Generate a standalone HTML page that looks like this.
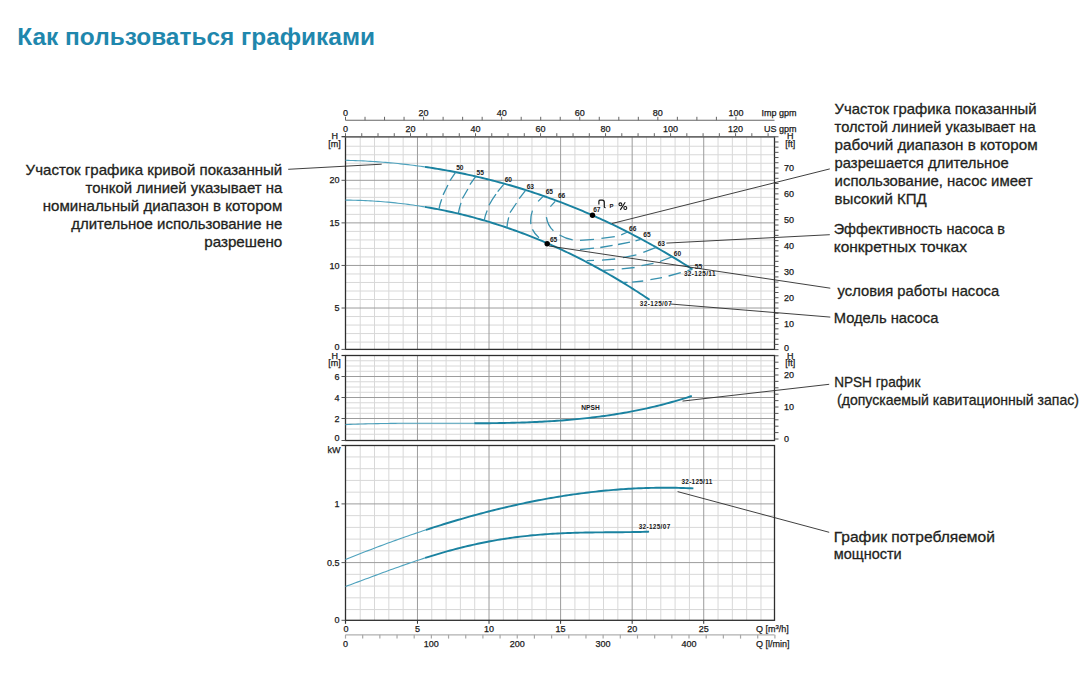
<!DOCTYPE html>
<html><head><meta charset="utf-8"><style>
html,body{margin:0;padding:0;background:#fff;}
body{width:1085px;height:686px;overflow:hidden;position:relative;font-family:"Liberation Sans",sans-serif;}
svg{position:absolute;left:0;top:0;}
svg text{font-family:"Liberation Sans",sans-serif;}
</style></head><body>
<svg width="1085" height="686" viewBox="0 0 1085 686">
<text x="17.3" y="44.8" font-size="24.5" font-weight="bold" fill="#1f87ad" textLength="357.7" lengthAdjust="spacingAndGlyphs">Как пользоваться графиками</text>
<line x1="360.21" y1="136.7" x2="360.21" y2="349.4" stroke="#d8d8d8" stroke-width="1" />
<line x1="374.53" y1="136.7" x2="374.53" y2="349.4" stroke="#d8d8d8" stroke-width="1" />
<line x1="388.84" y1="136.7" x2="388.84" y2="349.4" stroke="#d8d8d8" stroke-width="1" />
<line x1="403.15" y1="136.7" x2="403.15" y2="349.4" stroke="#d8d8d8" stroke-width="1" />
<line x1="431.78" y1="136.7" x2="431.78" y2="349.4" stroke="#d8d8d8" stroke-width="1" />
<line x1="446.09" y1="136.7" x2="446.09" y2="349.4" stroke="#d8d8d8" stroke-width="1" />
<line x1="460.4" y1="136.7" x2="460.4" y2="349.4" stroke="#d8d8d8" stroke-width="1" />
<line x1="474.72" y1="136.7" x2="474.72" y2="349.4" stroke="#d8d8d8" stroke-width="1" />
<line x1="503.34" y1="136.7" x2="503.34" y2="349.4" stroke="#d8d8d8" stroke-width="1" />
<line x1="517.66" y1="136.7" x2="517.66" y2="349.4" stroke="#d8d8d8" stroke-width="1" />
<line x1="531.97" y1="136.7" x2="531.97" y2="349.4" stroke="#d8d8d8" stroke-width="1" />
<line x1="546.28" y1="136.7" x2="546.28" y2="349.4" stroke="#d8d8d8" stroke-width="1" />
<line x1="574.91" y1="136.7" x2="574.91" y2="349.4" stroke="#d8d8d8" stroke-width="1" />
<line x1="589.22" y1="136.7" x2="589.22" y2="349.4" stroke="#d8d8d8" stroke-width="1" />
<line x1="603.53" y1="136.7" x2="603.53" y2="349.4" stroke="#d8d8d8" stroke-width="1" />
<line x1="617.85" y1="136.7" x2="617.85" y2="349.4" stroke="#d8d8d8" stroke-width="1" />
<line x1="646.47" y1="136.7" x2="646.47" y2="349.4" stroke="#d8d8d8" stroke-width="1" />
<line x1="660.79" y1="136.7" x2="660.79" y2="349.4" stroke="#d8d8d8" stroke-width="1" />
<line x1="675.1" y1="136.7" x2="675.1" y2="349.4" stroke="#d8d8d8" stroke-width="1" />
<line x1="689.41" y1="136.7" x2="689.41" y2="349.4" stroke="#d8d8d8" stroke-width="1" />
<line x1="718.04" y1="136.7" x2="718.04" y2="349.4" stroke="#d8d8d8" stroke-width="1" />
<line x1="732.35" y1="136.7" x2="732.35" y2="349.4" stroke="#d8d8d8" stroke-width="1" />
<line x1="746.66" y1="136.7" x2="746.66" y2="349.4" stroke="#d8d8d8" stroke-width="1" />
<line x1="760.98" y1="136.7" x2="760.98" y2="349.4" stroke="#d8d8d8" stroke-width="1" />
<line x1="345.5" y1="342.09" x2="774.5" y2="342.09" stroke="#d8d8d8" stroke-width="1" />
<line x1="345.5" y1="333.57" x2="774.5" y2="333.57" stroke="#d8d8d8" stroke-width="1" />
<line x1="345.5" y1="325.06" x2="774.5" y2="325.06" stroke="#d8d8d8" stroke-width="1" />
<line x1="345.5" y1="316.54" x2="774.5" y2="316.54" stroke="#d8d8d8" stroke-width="1" />
<line x1="345.5" y1="299.51" x2="774.5" y2="299.51" stroke="#d8d8d8" stroke-width="1" />
<line x1="345.5" y1="291" x2="774.5" y2="291" stroke="#d8d8d8" stroke-width="1" />
<line x1="345.5" y1="282.48" x2="774.5" y2="282.48" stroke="#d8d8d8" stroke-width="1" />
<line x1="345.5" y1="273.97" x2="774.5" y2="273.97" stroke="#d8d8d8" stroke-width="1" />
<line x1="345.5" y1="256.94" x2="774.5" y2="256.94" stroke="#d8d8d8" stroke-width="1" />
<line x1="345.5" y1="248.42" x2="774.5" y2="248.42" stroke="#d8d8d8" stroke-width="1" />
<line x1="345.5" y1="239.91" x2="774.5" y2="239.91" stroke="#d8d8d8" stroke-width="1" />
<line x1="345.5" y1="231.39" x2="774.5" y2="231.39" stroke="#d8d8d8" stroke-width="1" />
<line x1="345.5" y1="214.36" x2="774.5" y2="214.36" stroke="#d8d8d8" stroke-width="1" />
<line x1="345.5" y1="205.85" x2="774.5" y2="205.85" stroke="#d8d8d8" stroke-width="1" />
<line x1="345.5" y1="197.33" x2="774.5" y2="197.33" stroke="#d8d8d8" stroke-width="1" />
<line x1="345.5" y1="188.81" x2="774.5" y2="188.81" stroke="#d8d8d8" stroke-width="1" />
<line x1="345.5" y1="171.79" x2="774.5" y2="171.79" stroke="#d8d8d8" stroke-width="1" />
<line x1="345.5" y1="163.27" x2="774.5" y2="163.27" stroke="#d8d8d8" stroke-width="1" />
<line x1="345.5" y1="154.75" x2="774.5" y2="154.75" stroke="#d8d8d8" stroke-width="1" />
<line x1="345.5" y1="146.24" x2="774.5" y2="146.24" stroke="#d8d8d8" stroke-width="1" />
<line x1="417.46" y1="136.7" x2="417.46" y2="349.4" stroke="#9c9c9c" stroke-width="1" />
<line x1="489.03" y1="136.7" x2="489.03" y2="349.4" stroke="#9c9c9c" stroke-width="1" />
<line x1="560.6" y1="136.7" x2="560.6" y2="349.4" stroke="#9c9c9c" stroke-width="1" />
<line x1="632.16" y1="136.7" x2="632.16" y2="349.4" stroke="#9c9c9c" stroke-width="1" />
<line x1="703.72" y1="136.7" x2="703.72" y2="349.4" stroke="#9c9c9c" stroke-width="1" />
<line x1="345.5" y1="308.03" x2="774.5" y2="308.03" stroke="#9c9c9c" stroke-width="1" />
<line x1="345.5" y1="265.45" x2="774.5" y2="265.45" stroke="#9c9c9c" stroke-width="1" />
<line x1="345.5" y1="222.88" x2="774.5" y2="222.88" stroke="#9c9c9c" stroke-width="1" />
<line x1="345.5" y1="180.3" x2="774.5" y2="180.3" stroke="#9c9c9c" stroke-width="1" />
<line x1="360.21" y1="355.5" x2="360.21" y2="440.5" stroke="#d8d8d8" stroke-width="1" />
<line x1="374.53" y1="355.5" x2="374.53" y2="440.5" stroke="#d8d8d8" stroke-width="1" />
<line x1="388.84" y1="355.5" x2="388.84" y2="440.5" stroke="#d8d8d8" stroke-width="1" />
<line x1="403.15" y1="355.5" x2="403.15" y2="440.5" stroke="#d8d8d8" stroke-width="1" />
<line x1="431.78" y1="355.5" x2="431.78" y2="440.5" stroke="#d8d8d8" stroke-width="1" />
<line x1="446.09" y1="355.5" x2="446.09" y2="440.5" stroke="#d8d8d8" stroke-width="1" />
<line x1="460.4" y1="355.5" x2="460.4" y2="440.5" stroke="#d8d8d8" stroke-width="1" />
<line x1="474.72" y1="355.5" x2="474.72" y2="440.5" stroke="#d8d8d8" stroke-width="1" />
<line x1="503.34" y1="355.5" x2="503.34" y2="440.5" stroke="#d8d8d8" stroke-width="1" />
<line x1="517.66" y1="355.5" x2="517.66" y2="440.5" stroke="#d8d8d8" stroke-width="1" />
<line x1="531.97" y1="355.5" x2="531.97" y2="440.5" stroke="#d8d8d8" stroke-width="1" />
<line x1="546.28" y1="355.5" x2="546.28" y2="440.5" stroke="#d8d8d8" stroke-width="1" />
<line x1="574.91" y1="355.5" x2="574.91" y2="440.5" stroke="#d8d8d8" stroke-width="1" />
<line x1="589.22" y1="355.5" x2="589.22" y2="440.5" stroke="#d8d8d8" stroke-width="1" />
<line x1="603.53" y1="355.5" x2="603.53" y2="440.5" stroke="#d8d8d8" stroke-width="1" />
<line x1="617.85" y1="355.5" x2="617.85" y2="440.5" stroke="#d8d8d8" stroke-width="1" />
<line x1="646.47" y1="355.5" x2="646.47" y2="440.5" stroke="#d8d8d8" stroke-width="1" />
<line x1="660.79" y1="355.5" x2="660.79" y2="440.5" stroke="#d8d8d8" stroke-width="1" />
<line x1="675.1" y1="355.5" x2="675.1" y2="440.5" stroke="#d8d8d8" stroke-width="1" />
<line x1="689.41" y1="355.5" x2="689.41" y2="440.5" stroke="#d8d8d8" stroke-width="1" />
<line x1="718.04" y1="355.5" x2="718.04" y2="440.5" stroke="#d8d8d8" stroke-width="1" />
<line x1="732.35" y1="355.5" x2="732.35" y2="440.5" stroke="#d8d8d8" stroke-width="1" />
<line x1="746.66" y1="355.5" x2="746.66" y2="440.5" stroke="#d8d8d8" stroke-width="1" />
<line x1="760.98" y1="355.5" x2="760.98" y2="440.5" stroke="#d8d8d8" stroke-width="1" />
<line x1="345.5" y1="434.25" x2="774.5" y2="434.25" stroke="#d8d8d8" stroke-width="1" />
<line x1="345.5" y1="429" x2="774.5" y2="429" stroke="#d8d8d8" stroke-width="1" />
<line x1="345.5" y1="423.75" x2="774.5" y2="423.75" stroke="#d8d8d8" stroke-width="1" />
<line x1="345.5" y1="413.25" x2="774.5" y2="413.25" stroke="#d8d8d8" stroke-width="1" />
<line x1="345.5" y1="408" x2="774.5" y2="408" stroke="#d8d8d8" stroke-width="1" />
<line x1="345.5" y1="402.75" x2="774.5" y2="402.75" stroke="#d8d8d8" stroke-width="1" />
<line x1="345.5" y1="392.25" x2="774.5" y2="392.25" stroke="#d8d8d8" stroke-width="1" />
<line x1="345.5" y1="387" x2="774.5" y2="387" stroke="#d8d8d8" stroke-width="1" />
<line x1="345.5" y1="381.75" x2="774.5" y2="381.75" stroke="#d8d8d8" stroke-width="1" />
<line x1="345.5" y1="371.25" x2="774.5" y2="371.25" stroke="#d8d8d8" stroke-width="1" />
<line x1="345.5" y1="366" x2="774.5" y2="366" stroke="#d8d8d8" stroke-width="1" />
<line x1="345.5" y1="360.75" x2="774.5" y2="360.75" stroke="#d8d8d8" stroke-width="1" />
<line x1="417.46" y1="355.5" x2="417.46" y2="440.5" stroke="#9c9c9c" stroke-width="1" />
<line x1="489.03" y1="355.5" x2="489.03" y2="440.5" stroke="#9c9c9c" stroke-width="1" />
<line x1="560.6" y1="355.5" x2="560.6" y2="440.5" stroke="#9c9c9c" stroke-width="1" />
<line x1="632.16" y1="355.5" x2="632.16" y2="440.5" stroke="#9c9c9c" stroke-width="1" />
<line x1="703.72" y1="355.5" x2="703.72" y2="440.5" stroke="#9c9c9c" stroke-width="1" />
<line x1="345.5" y1="418.5" x2="774.5" y2="418.5" stroke="#9c9c9c" stroke-width="1" />
<line x1="345.5" y1="397.5" x2="774.5" y2="397.5" stroke="#9c9c9c" stroke-width="1" />
<line x1="345.5" y1="376.5" x2="774.5" y2="376.5" stroke="#9c9c9c" stroke-width="1" />
<line x1="360.21" y1="445.5" x2="360.21" y2="620.3" stroke="#d8d8d8" stroke-width="1" />
<line x1="374.53" y1="445.5" x2="374.53" y2="620.3" stroke="#d8d8d8" stroke-width="1" />
<line x1="388.84" y1="445.5" x2="388.84" y2="620.3" stroke="#d8d8d8" stroke-width="1" />
<line x1="403.15" y1="445.5" x2="403.15" y2="620.3" stroke="#d8d8d8" stroke-width="1" />
<line x1="431.78" y1="445.5" x2="431.78" y2="620.3" stroke="#d8d8d8" stroke-width="1" />
<line x1="446.09" y1="445.5" x2="446.09" y2="620.3" stroke="#d8d8d8" stroke-width="1" />
<line x1="460.4" y1="445.5" x2="460.4" y2="620.3" stroke="#d8d8d8" stroke-width="1" />
<line x1="474.72" y1="445.5" x2="474.72" y2="620.3" stroke="#d8d8d8" stroke-width="1" />
<line x1="503.34" y1="445.5" x2="503.34" y2="620.3" stroke="#d8d8d8" stroke-width="1" />
<line x1="517.66" y1="445.5" x2="517.66" y2="620.3" stroke="#d8d8d8" stroke-width="1" />
<line x1="531.97" y1="445.5" x2="531.97" y2="620.3" stroke="#d8d8d8" stroke-width="1" />
<line x1="546.28" y1="445.5" x2="546.28" y2="620.3" stroke="#d8d8d8" stroke-width="1" />
<line x1="574.91" y1="445.5" x2="574.91" y2="620.3" stroke="#d8d8d8" stroke-width="1" />
<line x1="589.22" y1="445.5" x2="589.22" y2="620.3" stroke="#d8d8d8" stroke-width="1" />
<line x1="603.53" y1="445.5" x2="603.53" y2="620.3" stroke="#d8d8d8" stroke-width="1" />
<line x1="617.85" y1="445.5" x2="617.85" y2="620.3" stroke="#d8d8d8" stroke-width="1" />
<line x1="646.47" y1="445.5" x2="646.47" y2="620.3" stroke="#d8d8d8" stroke-width="1" />
<line x1="660.79" y1="445.5" x2="660.79" y2="620.3" stroke="#d8d8d8" stroke-width="1" />
<line x1="675.1" y1="445.5" x2="675.1" y2="620.3" stroke="#d8d8d8" stroke-width="1" />
<line x1="689.41" y1="445.5" x2="689.41" y2="620.3" stroke="#d8d8d8" stroke-width="1" />
<line x1="718.04" y1="445.5" x2="718.04" y2="620.3" stroke="#d8d8d8" stroke-width="1" />
<line x1="732.35" y1="445.5" x2="732.35" y2="620.3" stroke="#d8d8d8" stroke-width="1" />
<line x1="746.66" y1="445.5" x2="746.66" y2="620.3" stroke="#d8d8d8" stroke-width="1" />
<line x1="760.98" y1="445.5" x2="760.98" y2="620.3" stroke="#d8d8d8" stroke-width="1" />
<line x1="345.5" y1="609.56" x2="774.5" y2="609.56" stroke="#d8d8d8" stroke-width="1" />
<line x1="345.5" y1="597.82" x2="774.5" y2="597.82" stroke="#d8d8d8" stroke-width="1" />
<line x1="345.5" y1="586.08" x2="774.5" y2="586.08" stroke="#d8d8d8" stroke-width="1" />
<line x1="345.5" y1="574.34" x2="774.5" y2="574.34" stroke="#d8d8d8" stroke-width="1" />
<line x1="345.5" y1="550.86" x2="774.5" y2="550.86" stroke="#d8d8d8" stroke-width="1" />
<line x1="345.5" y1="539.12" x2="774.5" y2="539.12" stroke="#d8d8d8" stroke-width="1" />
<line x1="345.5" y1="527.38" x2="774.5" y2="527.38" stroke="#d8d8d8" stroke-width="1" />
<line x1="345.5" y1="515.64" x2="774.5" y2="515.64" stroke="#d8d8d8" stroke-width="1" />
<line x1="345.5" y1="492.16" x2="774.5" y2="492.16" stroke="#d8d8d8" stroke-width="1" />
<line x1="345.5" y1="480.42" x2="774.5" y2="480.42" stroke="#d8d8d8" stroke-width="1" />
<line x1="345.5" y1="468.68" x2="774.5" y2="468.68" stroke="#d8d8d8" stroke-width="1" />
<line x1="345.5" y1="456.94" x2="774.5" y2="456.94" stroke="#d8d8d8" stroke-width="1" />
<line x1="417.46" y1="445.5" x2="417.46" y2="620.3" stroke="#9c9c9c" stroke-width="1" />
<line x1="489.03" y1="445.5" x2="489.03" y2="620.3" stroke="#9c9c9c" stroke-width="1" />
<line x1="560.6" y1="445.5" x2="560.6" y2="620.3" stroke="#9c9c9c" stroke-width="1" />
<line x1="632.16" y1="445.5" x2="632.16" y2="620.3" stroke="#9c9c9c" stroke-width="1" />
<line x1="703.72" y1="445.5" x2="703.72" y2="620.3" stroke="#9c9c9c" stroke-width="1" />
<line x1="345.5" y1="562.6" x2="774.5" y2="562.6" stroke="#9c9c9c" stroke-width="1" />
<line x1="345.5" y1="503.9" x2="774.5" y2="503.9" stroke="#9c9c9c" stroke-width="1" />
<rect x="345.5" y="136.7" width="429" height="212.7" fill="none" stroke="#2e2e2e" stroke-width="1.3"/>
<rect x="345.5" y="355.5" width="429" height="85" fill="none" stroke="#2e2e2e" stroke-width="1.3"/>
<rect x="345.5" y="445.5" width="429" height="174.8" fill="none" stroke="#2e2e2e" stroke-width="1.3"/>
<line x1="344.9" y1="136.7" x2="775.1" y2="136.7" stroke="#6a6a6a" stroke-width="1.6" />
<line x1="345.5" y1="120.3" x2="774.5" y2="120.3" stroke="#666" stroke-width="1.1" />
<line x1="345.5" y1="116.8" x2="345.5" y2="120.3" stroke="#666" stroke-width="1" />
<line x1="365.02" y1="116.8" x2="365.02" y2="120.3" stroke="#666" stroke-width="1" />
<line x1="384.54" y1="116.8" x2="384.54" y2="120.3" stroke="#666" stroke-width="1" />
<line x1="404.06" y1="116.8" x2="404.06" y2="120.3" stroke="#666" stroke-width="1" />
<line x1="423.59" y1="116.8" x2="423.59" y2="120.3" stroke="#666" stroke-width="1" />
<line x1="443.11" y1="116.8" x2="443.11" y2="120.3" stroke="#666" stroke-width="1" />
<line x1="462.63" y1="116.8" x2="462.63" y2="120.3" stroke="#666" stroke-width="1" />
<line x1="482.15" y1="116.8" x2="482.15" y2="120.3" stroke="#666" stroke-width="1" />
<line x1="501.67" y1="116.8" x2="501.67" y2="120.3" stroke="#666" stroke-width="1" />
<line x1="521.19" y1="116.8" x2="521.19" y2="120.3" stroke="#666" stroke-width="1" />
<line x1="540.71" y1="116.8" x2="540.71" y2="120.3" stroke="#666" stroke-width="1" />
<line x1="560.23" y1="116.8" x2="560.23" y2="120.3" stroke="#666" stroke-width="1" />
<line x1="579.76" y1="116.8" x2="579.76" y2="120.3" stroke="#666" stroke-width="1" />
<line x1="599.28" y1="116.8" x2="599.28" y2="120.3" stroke="#666" stroke-width="1" />
<line x1="618.8" y1="116.8" x2="618.8" y2="120.3" stroke="#666" stroke-width="1" />
<line x1="638.32" y1="116.8" x2="638.32" y2="120.3" stroke="#666" stroke-width="1" />
<line x1="657.84" y1="116.8" x2="657.84" y2="120.3" stroke="#666" stroke-width="1" />
<line x1="677.36" y1="116.8" x2="677.36" y2="120.3" stroke="#666" stroke-width="1" />
<line x1="696.88" y1="116.8" x2="696.88" y2="120.3" stroke="#666" stroke-width="1" />
<line x1="716.4" y1="116.8" x2="716.4" y2="120.3" stroke="#666" stroke-width="1" />
<line x1="735.93" y1="116.8" x2="735.93" y2="120.3" stroke="#666" stroke-width="1" />
<text x="345.5" y="115.8" font-size="9" text-anchor="middle" font-weight="normal" fill="#1a1a1a" stroke="#1a1a1a" stroke-width="0.25">0</text>
<text x="423.59" y="115.8" font-size="9" text-anchor="middle" font-weight="normal" fill="#1a1a1a" stroke="#1a1a1a" stroke-width="0.25">20</text>
<text x="501.67" y="115.8" font-size="9" text-anchor="middle" font-weight="normal" fill="#1a1a1a" stroke="#1a1a1a" stroke-width="0.25">40</text>
<text x="579.76" y="115.8" font-size="9" text-anchor="middle" font-weight="normal" fill="#1a1a1a" stroke="#1a1a1a" stroke-width="0.25">60</text>
<text x="657.84" y="115.8" font-size="9" text-anchor="middle" font-weight="normal" fill="#1a1a1a" stroke="#1a1a1a" stroke-width="0.25">80</text>
<text x="735.93" y="115.8" font-size="9" text-anchor="middle" font-weight="normal" fill="#1a1a1a" stroke="#1a1a1a" stroke-width="0.25">100</text>
<text x="796.5" y="115.8" font-size="9" text-anchor="end" font-weight="normal" fill="#1a1a1a" stroke="#1a1a1a" stroke-width="0.25">Imp gpm</text>
<line x1="345.5" y1="133.2" x2="345.5" y2="136.7" stroke="#666" stroke-width="1" />
<line x1="361.75" y1="133.2" x2="361.75" y2="136.7" stroke="#666" stroke-width="1" />
<line x1="378.01" y1="133.2" x2="378.01" y2="136.7" stroke="#666" stroke-width="1" />
<line x1="394.26" y1="133.2" x2="394.26" y2="136.7" stroke="#666" stroke-width="1" />
<line x1="410.51" y1="133.2" x2="410.51" y2="136.7" stroke="#666" stroke-width="1" />
<line x1="426.77" y1="133.2" x2="426.77" y2="136.7" stroke="#666" stroke-width="1" />
<line x1="443.02" y1="133.2" x2="443.02" y2="136.7" stroke="#666" stroke-width="1" />
<line x1="459.28" y1="133.2" x2="459.28" y2="136.7" stroke="#666" stroke-width="1" />
<line x1="475.53" y1="133.2" x2="475.53" y2="136.7" stroke="#666" stroke-width="1" />
<line x1="491.78" y1="133.2" x2="491.78" y2="136.7" stroke="#666" stroke-width="1" />
<line x1="508.04" y1="133.2" x2="508.04" y2="136.7" stroke="#666" stroke-width="1" />
<line x1="524.29" y1="133.2" x2="524.29" y2="136.7" stroke="#666" stroke-width="1" />
<line x1="540.54" y1="133.2" x2="540.54" y2="136.7" stroke="#666" stroke-width="1" />
<line x1="556.8" y1="133.2" x2="556.8" y2="136.7" stroke="#666" stroke-width="1" />
<line x1="573.05" y1="133.2" x2="573.05" y2="136.7" stroke="#666" stroke-width="1" />
<line x1="589.31" y1="133.2" x2="589.31" y2="136.7" stroke="#666" stroke-width="1" />
<line x1="605.56" y1="133.2" x2="605.56" y2="136.7" stroke="#666" stroke-width="1" />
<line x1="621.81" y1="133.2" x2="621.81" y2="136.7" stroke="#666" stroke-width="1" />
<line x1="638.07" y1="133.2" x2="638.07" y2="136.7" stroke="#666" stroke-width="1" />
<line x1="654.32" y1="133.2" x2="654.32" y2="136.7" stroke="#666" stroke-width="1" />
<line x1="670.57" y1="133.2" x2="670.57" y2="136.7" stroke="#666" stroke-width="1" />
<line x1="686.83" y1="133.2" x2="686.83" y2="136.7" stroke="#666" stroke-width="1" />
<line x1="703.08" y1="133.2" x2="703.08" y2="136.7" stroke="#666" stroke-width="1" />
<line x1="719.33" y1="133.2" x2="719.33" y2="136.7" stroke="#666" stroke-width="1" />
<line x1="735.59" y1="133.2" x2="735.59" y2="136.7" stroke="#666" stroke-width="1" />
<line x1="751.84" y1="133.2" x2="751.84" y2="136.7" stroke="#666" stroke-width="1" />
<line x1="768.1" y1="133.2" x2="768.1" y2="136.7" stroke="#666" stroke-width="1" />
<text x="345.5" y="131.8" font-size="9" text-anchor="middle" font-weight="normal" fill="#1a1a1a" stroke="#1a1a1a" stroke-width="0.25">0</text>
<text x="410.51" y="131.8" font-size="9" text-anchor="middle" font-weight="normal" fill="#1a1a1a" stroke="#1a1a1a" stroke-width="0.25">20</text>
<text x="475.53" y="131.8" font-size="9" text-anchor="middle" font-weight="normal" fill="#1a1a1a" stroke="#1a1a1a" stroke-width="0.25">40</text>
<text x="540.54" y="131.8" font-size="9" text-anchor="middle" font-weight="normal" fill="#1a1a1a" stroke="#1a1a1a" stroke-width="0.25">60</text>
<text x="605.56" y="131.8" font-size="9" text-anchor="middle" font-weight="normal" fill="#1a1a1a" stroke="#1a1a1a" stroke-width="0.25">80</text>
<text x="670.57" y="131.8" font-size="9" text-anchor="middle" font-weight="normal" fill="#1a1a1a" stroke="#1a1a1a" stroke-width="0.25">100</text>
<text x="735.59" y="131.8" font-size="9" text-anchor="middle" font-weight="normal" fill="#1a1a1a" stroke="#1a1a1a" stroke-width="0.25">120</text>
<text x="796.5" y="131.8" font-size="9" text-anchor="end" font-weight="normal" fill="#1a1a1a" stroke="#1a1a1a" stroke-width="0.25">US gpm</text>
<line x1="341.5" y1="136.7" x2="345.5" y2="136.7" stroke="#2e2e2e" stroke-width="1.2" />
<line x1="341.5" y1="349.4" x2="345.5" y2="349.4" stroke="#555" stroke-width="1" />
<text x="339.5" y="350.3" font-size="9" text-anchor="end" font-weight="normal" fill="#1a1a1a" stroke="#1a1a1a" stroke-width="0.25">0</text>
<line x1="341.5" y1="308.03" x2="345.5" y2="308.03" stroke="#555" stroke-width="1" />
<text x="339.5" y="311.13" font-size="9" text-anchor="end" font-weight="normal" fill="#1a1a1a" stroke="#1a1a1a" stroke-width="0.25">5</text>
<line x1="341.5" y1="265.45" x2="345.5" y2="265.45" stroke="#555" stroke-width="1" />
<text x="339.5" y="268.55" font-size="9" text-anchor="end" font-weight="normal" fill="#1a1a1a" stroke="#1a1a1a" stroke-width="0.25">10</text>
<line x1="341.5" y1="222.88" x2="345.5" y2="222.88" stroke="#555" stroke-width="1" />
<text x="339.5" y="225.97" font-size="9" text-anchor="end" font-weight="normal" fill="#1a1a1a" stroke="#1a1a1a" stroke-width="0.25">15</text>
<line x1="341.5" y1="180.3" x2="345.5" y2="180.3" stroke="#555" stroke-width="1" />
<text x="339.5" y="183.4" font-size="9" text-anchor="end" font-weight="normal" fill="#1a1a1a" stroke="#1a1a1a" stroke-width="0.25">20</text>
<line x1="774.5" y1="349.6" x2="778.5" y2="349.6" stroke="#555" stroke-width="1" />
<line x1="774.5" y1="344.41" x2="778.5" y2="344.41" stroke="#555" stroke-width="1" />
<line x1="774.5" y1="339.22" x2="778.5" y2="339.22" stroke="#555" stroke-width="1" />
<line x1="774.5" y1="334.03" x2="778.5" y2="334.03" stroke="#555" stroke-width="1" />
<line x1="774.5" y1="328.84" x2="778.5" y2="328.84" stroke="#555" stroke-width="1" />
<line x1="774.5" y1="323.65" x2="778.5" y2="323.65" stroke="#555" stroke-width="1" />
<line x1="774.5" y1="318.46" x2="778.5" y2="318.46" stroke="#555" stroke-width="1" />
<line x1="774.5" y1="313.26" x2="778.5" y2="313.26" stroke="#555" stroke-width="1" />
<line x1="774.5" y1="308.07" x2="778.5" y2="308.07" stroke="#555" stroke-width="1" />
<line x1="774.5" y1="302.88" x2="778.5" y2="302.88" stroke="#555" stroke-width="1" />
<line x1="774.5" y1="297.69" x2="778.5" y2="297.69" stroke="#555" stroke-width="1" />
<line x1="774.5" y1="292.5" x2="778.5" y2="292.5" stroke="#555" stroke-width="1" />
<line x1="774.5" y1="287.31" x2="778.5" y2="287.31" stroke="#555" stroke-width="1" />
<line x1="774.5" y1="282.12" x2="778.5" y2="282.12" stroke="#555" stroke-width="1" />
<line x1="774.5" y1="276.93" x2="778.5" y2="276.93" stroke="#555" stroke-width="1" />
<line x1="774.5" y1="271.74" x2="778.5" y2="271.74" stroke="#555" stroke-width="1" />
<line x1="774.5" y1="266.55" x2="778.5" y2="266.55" stroke="#555" stroke-width="1" />
<line x1="774.5" y1="261.36" x2="778.5" y2="261.36" stroke="#555" stroke-width="1" />
<line x1="774.5" y1="256.17" x2="778.5" y2="256.17" stroke="#555" stroke-width="1" />
<line x1="774.5" y1="250.98" x2="778.5" y2="250.98" stroke="#555" stroke-width="1" />
<line x1="774.5" y1="245.79" x2="778.5" y2="245.79" stroke="#555" stroke-width="1" />
<line x1="774.5" y1="240.59" x2="778.5" y2="240.59" stroke="#555" stroke-width="1" />
<line x1="774.5" y1="235.4" x2="778.5" y2="235.4" stroke="#555" stroke-width="1" />
<line x1="774.5" y1="230.21" x2="778.5" y2="230.21" stroke="#555" stroke-width="1" />
<line x1="774.5" y1="225.02" x2="778.5" y2="225.02" stroke="#555" stroke-width="1" />
<line x1="774.5" y1="219.83" x2="778.5" y2="219.83" stroke="#555" stroke-width="1" />
<line x1="774.5" y1="214.64" x2="778.5" y2="214.64" stroke="#555" stroke-width="1" />
<line x1="774.5" y1="209.45" x2="778.5" y2="209.45" stroke="#555" stroke-width="1" />
<line x1="774.5" y1="204.26" x2="778.5" y2="204.26" stroke="#555" stroke-width="1" />
<line x1="774.5" y1="199.07" x2="778.5" y2="199.07" stroke="#555" stroke-width="1" />
<line x1="774.5" y1="193.88" x2="778.5" y2="193.88" stroke="#555" stroke-width="1" />
<line x1="774.5" y1="188.69" x2="778.5" y2="188.69" stroke="#555" stroke-width="1" />
<line x1="774.5" y1="183.5" x2="778.5" y2="183.5" stroke="#555" stroke-width="1" />
<line x1="774.5" y1="178.31" x2="778.5" y2="178.31" stroke="#555" stroke-width="1" />
<line x1="774.5" y1="173.11" x2="778.5" y2="173.11" stroke="#555" stroke-width="1" />
<line x1="774.5" y1="167.92" x2="778.5" y2="167.92" stroke="#555" stroke-width="1" />
<line x1="774.5" y1="162.73" x2="778.5" y2="162.73" stroke="#555" stroke-width="1" />
<line x1="774.5" y1="157.54" x2="778.5" y2="157.54" stroke="#555" stroke-width="1" />
<line x1="774.5" y1="152.35" x2="778.5" y2="152.35" stroke="#555" stroke-width="1" />
<line x1="774.5" y1="147.16" x2="778.5" y2="147.16" stroke="#555" stroke-width="1" />
<line x1="774.5" y1="141.97" x2="778.5" y2="141.97" stroke="#555" stroke-width="1" />
<line x1="774.5" y1="136.78" x2="778.5" y2="136.78" stroke="#555" stroke-width="1" />
<text x="784.1" y="350.5" font-size="9" text-anchor="start" font-weight="normal" fill="#1a1a1a" stroke="#1a1a1a" stroke-width="0.25">0</text>
<text x="784.1" y="326.75" font-size="9" text-anchor="start" font-weight="normal" fill="#1a1a1a" stroke="#1a1a1a" stroke-width="0.25">10</text>
<text x="784.1" y="300.79" font-size="9" text-anchor="start" font-weight="normal" fill="#1a1a1a" stroke="#1a1a1a" stroke-width="0.25">20</text>
<text x="784.1" y="274.84" font-size="9" text-anchor="start" font-weight="normal" fill="#1a1a1a" stroke="#1a1a1a" stroke-width="0.25">30</text>
<text x="784.1" y="248.89" font-size="9" text-anchor="start" font-weight="normal" fill="#1a1a1a" stroke="#1a1a1a" stroke-width="0.25">40</text>
<text x="784.1" y="222.93" font-size="9" text-anchor="start" font-weight="normal" fill="#1a1a1a" stroke="#1a1a1a" stroke-width="0.25">50</text>
<text x="784.1" y="196.98" font-size="9" text-anchor="start" font-weight="normal" fill="#1a1a1a" stroke="#1a1a1a" stroke-width="0.25">60</text>
<text x="784.1" y="171.02" font-size="9" text-anchor="start" font-weight="normal" fill="#1a1a1a" stroke="#1a1a1a" stroke-width="0.25">70</text>
<text x="334.8" y="139.3" font-size="9" text-anchor="middle" font-weight="normal" fill="#1a1a1a" stroke="#1a1a1a" stroke-width="0.25">H</text>
<text x="334.6" y="146.6" font-size="9" text-anchor="middle" font-weight="normal" fill="#1a1a1a" stroke="#1a1a1a" stroke-width="0.25">[m]</text>
<text x="790.2" y="139.3" font-size="9" text-anchor="middle" font-weight="normal" fill="#1a1a1a" stroke="#1a1a1a" stroke-width="0.25">H</text>
<text x="790.3" y="146.6" font-size="9" text-anchor="middle" font-weight="normal" fill="#1a1a1a" stroke="#1a1a1a" stroke-width="0.25">[ft]</text>
<line x1="341.5" y1="355.5" x2="345.5" y2="355.5" stroke="#2e2e2e" stroke-width="1.2" />
<line x1="341.5" y1="440.5" x2="345.5" y2="440.5" stroke="#555" stroke-width="1" />
<text x="339.5" y="440.6" font-size="9" text-anchor="end" font-weight="normal" fill="#1a1a1a" stroke="#1a1a1a" stroke-width="0.25">0</text>
<line x1="341.5" y1="418.5" x2="345.5" y2="418.5" stroke="#555" stroke-width="1" />
<text x="339.5" y="421.6" font-size="9" text-anchor="end" font-weight="normal" fill="#1a1a1a" stroke="#1a1a1a" stroke-width="0.25">2</text>
<line x1="341.5" y1="397.5" x2="345.5" y2="397.5" stroke="#555" stroke-width="1" />
<text x="339.5" y="400.6" font-size="9" text-anchor="end" font-weight="normal" fill="#1a1a1a" stroke="#1a1a1a" stroke-width="0.25">4</text>
<line x1="341.5" y1="376.5" x2="345.5" y2="376.5" stroke="#555" stroke-width="1" />
<text x="339.5" y="379.6" font-size="9" text-anchor="end" font-weight="normal" fill="#1a1a1a" stroke="#1a1a1a" stroke-width="0.25">6</text>
<line x1="774.5" y1="439" x2="778.5" y2="439" stroke="#555" stroke-width="1" />
<line x1="774.5" y1="432.6" x2="778.5" y2="432.6" stroke="#555" stroke-width="1" />
<line x1="774.5" y1="426.2" x2="778.5" y2="426.2" stroke="#555" stroke-width="1" />
<line x1="774.5" y1="419.8" x2="778.5" y2="419.8" stroke="#555" stroke-width="1" />
<line x1="774.5" y1="413.4" x2="778.5" y2="413.4" stroke="#555" stroke-width="1" />
<line x1="774.5" y1="407" x2="778.5" y2="407" stroke="#555" stroke-width="1" />
<line x1="774.5" y1="400.6" x2="778.5" y2="400.6" stroke="#555" stroke-width="1" />
<line x1="774.5" y1="394.19" x2="778.5" y2="394.19" stroke="#555" stroke-width="1" />
<line x1="774.5" y1="387.79" x2="778.5" y2="387.79" stroke="#555" stroke-width="1" />
<line x1="774.5" y1="381.39" x2="778.5" y2="381.39" stroke="#555" stroke-width="1" />
<line x1="774.5" y1="374.99" x2="778.5" y2="374.99" stroke="#555" stroke-width="1" />
<line x1="774.5" y1="368.59" x2="778.5" y2="368.59" stroke="#555" stroke-width="1" />
<line x1="774.5" y1="362.19" x2="778.5" y2="362.19" stroke="#555" stroke-width="1" />
<line x1="774.5" y1="355.79" x2="778.5" y2="355.79" stroke="#555" stroke-width="1" />
<text x="784.1" y="442.1" font-size="9" text-anchor="start" font-weight="normal" fill="#1a1a1a" stroke="#1a1a1a" stroke-width="0.25">0</text>
<text x="784.1" y="410.1" font-size="9" text-anchor="start" font-weight="normal" fill="#1a1a1a" stroke="#1a1a1a" stroke-width="0.25">10</text>
<text x="784.1" y="378.09" font-size="9" text-anchor="start" font-weight="normal" fill="#1a1a1a" stroke="#1a1a1a" stroke-width="0.25">20</text>
<text x="334.8" y="358.8" font-size="9" text-anchor="middle" font-weight="normal" fill="#1a1a1a" stroke="#1a1a1a" stroke-width="0.25">H</text>
<text x="334.6" y="366" font-size="9" text-anchor="middle" font-weight="normal" fill="#1a1a1a" stroke="#1a1a1a" stroke-width="0.25">[m]</text>
<text x="790.2" y="358.8" font-size="9" text-anchor="middle" font-weight="normal" fill="#1a1a1a" stroke="#1a1a1a" stroke-width="0.25">H</text>
<text x="790.3" y="366.2" font-size="9" text-anchor="middle" font-weight="normal" fill="#1a1a1a" stroke="#1a1a1a" stroke-width="0.25">[ft]</text>
<line x1="341.5" y1="445.5" x2="345.5" y2="445.5" stroke="#2e2e2e" stroke-width="1.2" />
<line x1="341.5" y1="620.3" x2="345.5" y2="620.3" stroke="#555" stroke-width="1" />
<text x="339.5" y="623.4" font-size="9" text-anchor="end" font-weight="normal" fill="#1a1a1a" stroke="#1a1a1a" stroke-width="0.25">0</text>
<line x1="341.5" y1="562.6" x2="345.5" y2="562.6" stroke="#555" stroke-width="1" />
<text x="339.5" y="565.7" font-size="9" text-anchor="end" font-weight="normal" fill="#1a1a1a" stroke="#1a1a1a" stroke-width="0.25">0.5</text>
<line x1="341.5" y1="503.9" x2="345.5" y2="503.9" stroke="#555" stroke-width="1" />
<text x="339.5" y="507" font-size="9" text-anchor="end" font-weight="normal" fill="#1a1a1a" stroke="#1a1a1a" stroke-width="0.25">1</text>
<text x="340.5" y="452.8" font-size="9" text-anchor="end" font-weight="normal" fill="#1a1a1a" stroke="#1a1a1a" stroke-width="0.25">kW</text>
<line x1="345.5" y1="620.3" x2="345.5" y2="623.8" stroke="#333" stroke-width="1.2" />
<text x="345.9" y="631.8" font-size="9" text-anchor="middle" font-weight="normal" fill="#1a1a1a" stroke="#1a1a1a" stroke-width="0.25">0</text>
<line x1="417.46" y1="620.3" x2="417.46" y2="623.8" stroke="#333" stroke-width="1" />
<text x="417.46" y="631.8" font-size="9" text-anchor="middle" font-weight="normal" fill="#1a1a1a" stroke="#1a1a1a" stroke-width="0.25">5</text>
<line x1="489.03" y1="620.3" x2="489.03" y2="623.8" stroke="#333" stroke-width="1" />
<text x="489.03" y="631.8" font-size="9" text-anchor="middle" font-weight="normal" fill="#1a1a1a" stroke="#1a1a1a" stroke-width="0.25">10</text>
<line x1="560.6" y1="620.3" x2="560.6" y2="623.8" stroke="#333" stroke-width="1" />
<text x="560.6" y="631.8" font-size="9" text-anchor="middle" font-weight="normal" fill="#1a1a1a" stroke="#1a1a1a" stroke-width="0.25">15</text>
<line x1="632.16" y1="620.3" x2="632.16" y2="623.8" stroke="#333" stroke-width="1" />
<text x="632.16" y="631.8" font-size="9" text-anchor="middle" font-weight="normal" fill="#1a1a1a" stroke="#1a1a1a" stroke-width="0.25">20</text>
<line x1="703.72" y1="620.3" x2="703.72" y2="623.8" stroke="#333" stroke-width="1" />
<text x="703.72" y="631.8" font-size="9" text-anchor="middle" font-weight="normal" fill="#1a1a1a" stroke="#1a1a1a" stroke-width="0.25">25</text>
<text x="756" y="631.8" font-size="9" fill="#1a1a1a" stroke="#1a1a1a" stroke-width="0.25">Q [m<tspan font-size="6" dy="-3">3</tspan><tspan dy="3">/h]</tspan></text>
<line x1="345.5" y1="634.8" x2="774.5" y2="634.8" stroke="#b0b0b0" stroke-width="1.2" />
<line x1="345.5" y1="634.8" x2="345.5" y2="638.6" stroke="#a8a8a8" stroke-width="1.2" />
<line x1="362.68" y1="634.8" x2="362.68" y2="638.6" stroke="#a8a8a8" stroke-width="1.2" />
<line x1="379.85" y1="634.8" x2="379.85" y2="638.6" stroke="#a8a8a8" stroke-width="1.2" />
<line x1="397.03" y1="634.8" x2="397.03" y2="638.6" stroke="#a8a8a8" stroke-width="1.2" />
<line x1="414.2" y1="634.8" x2="414.2" y2="638.6" stroke="#a8a8a8" stroke-width="1.2" />
<line x1="431.38" y1="634.8" x2="431.38" y2="638.6" stroke="#a8a8a8" stroke-width="1.2" />
<line x1="448.55" y1="634.8" x2="448.55" y2="638.6" stroke="#a8a8a8" stroke-width="1.2" />
<line x1="465.73" y1="634.8" x2="465.73" y2="638.6" stroke="#a8a8a8" stroke-width="1.2" />
<line x1="482.9" y1="634.8" x2="482.9" y2="638.6" stroke="#a8a8a8" stroke-width="1.2" />
<line x1="500.08" y1="634.8" x2="500.08" y2="638.6" stroke="#a8a8a8" stroke-width="1.2" />
<line x1="517.26" y1="634.8" x2="517.26" y2="638.6" stroke="#a8a8a8" stroke-width="1.2" />
<line x1="534.43" y1="634.8" x2="534.43" y2="638.6" stroke="#a8a8a8" stroke-width="1.2" />
<line x1="551.61" y1="634.8" x2="551.61" y2="638.6" stroke="#a8a8a8" stroke-width="1.2" />
<line x1="568.78" y1="634.8" x2="568.78" y2="638.6" stroke="#a8a8a8" stroke-width="1.2" />
<line x1="585.96" y1="634.8" x2="585.96" y2="638.6" stroke="#a8a8a8" stroke-width="1.2" />
<line x1="603.13" y1="634.8" x2="603.13" y2="638.6" stroke="#a8a8a8" stroke-width="1.2" />
<line x1="620.31" y1="634.8" x2="620.31" y2="638.6" stroke="#a8a8a8" stroke-width="1.2" />
<line x1="637.49" y1="634.8" x2="637.49" y2="638.6" stroke="#a8a8a8" stroke-width="1.2" />
<line x1="654.66" y1="634.8" x2="654.66" y2="638.6" stroke="#a8a8a8" stroke-width="1.2" />
<line x1="671.84" y1="634.8" x2="671.84" y2="638.6" stroke="#a8a8a8" stroke-width="1.2" />
<line x1="689.01" y1="634.8" x2="689.01" y2="638.6" stroke="#a8a8a8" stroke-width="1.2" />
<line x1="706.19" y1="634.8" x2="706.19" y2="638.6" stroke="#a8a8a8" stroke-width="1.2" />
<line x1="723.36" y1="634.8" x2="723.36" y2="638.6" stroke="#a8a8a8" stroke-width="1.2" />
<line x1="740.54" y1="634.8" x2="740.54" y2="638.6" stroke="#a8a8a8" stroke-width="1.2" />
<line x1="757.71" y1="634.8" x2="757.71" y2="638.6" stroke="#a8a8a8" stroke-width="1.2" />
<line x1="774.89" y1="634.8" x2="774.89" y2="638.6" stroke="#a8a8a8" stroke-width="1.2" />
<text x="345.5" y="646.9" font-size="9" text-anchor="middle" font-weight="normal" fill="#1a1a1a" stroke="#1a1a1a" stroke-width="0.25">0</text>
<text x="431.38" y="646.9" font-size="9" text-anchor="middle" font-weight="normal" fill="#1a1a1a" stroke="#1a1a1a" stroke-width="0.25">100</text>
<text x="517.26" y="646.9" font-size="9" text-anchor="middle" font-weight="normal" fill="#1a1a1a" stroke="#1a1a1a" stroke-width="0.25">200</text>
<text x="603.13" y="646.9" font-size="9" text-anchor="middle" font-weight="normal" fill="#1a1a1a" stroke="#1a1a1a" stroke-width="0.25">300</text>
<text x="689.01" y="646.9" font-size="9" text-anchor="middle" font-weight="normal" fill="#1a1a1a" stroke="#1a1a1a" stroke-width="0.25">400</text>
<text x="756" y="646.9" font-size="9" text-anchor="start" font-weight="normal" fill="#1a1a1a" stroke="#1a1a1a" stroke-width="0.25">Q [l/min]</text>
<path d="M345.5,160.29 L348,160.36 L350.5,160.43 L353,160.51 L355.5,160.6 L358,160.7 L360.5,160.8 L363,160.92 L365.5,161.05 L368,161.19 L370.5,161.33 L373,161.49 L375.5,161.65 L378,161.83 L380.5,162.01 L383,162.2 L385.5,162.41 L388,162.62 L390.5,162.84 L393,163.07 L395.5,163.31 L398,163.57 L400.5,163.83 L403,164.1 L405.5,164.38 L408,164.67 L410.5,164.97 L413,165.28 L415.5,165.6 L418,165.93 L420.5,166.27 L423,166.62 L425.5,166.98 L426,167.06" fill="none" stroke="#4ea2bd" stroke-width="1.1"/>
<path d="M425,166.91 L427.5,167.28 L430,167.66 L432.5,168.05 L435,168.44 L437.5,168.85 L440,169.27 L442.5,169.7 L445,170.14 L447.5,170.59 L450,171.05 L452.5,171.52 L455,172.01 L457.5,172.5 L460,173 L462.5,173.51 L465,174.04 L467.5,174.57 L470,175.11 L472.5,175.67 L475,176.23 L477.5,176.81 L480,177.4 L482.5,177.99 L485,178.6 L487.5,179.22 L490,179.85 L492.5,180.49 L495,181.14 L497.5,181.8 L500,182.48 L502.5,183.16 L505,183.86 L507.5,184.56 L510,185.28 L512.5,186.01 L515,186.75 L517.5,187.5 L520,188.26 L522.5,189.03 L525,189.81 L527.5,190.61 L530,191.41 L532.5,192.23 L535,193.06 L537.5,193.9 L540,194.75 L542.5,195.61 L545,196.49 L547.5,197.37 L550,198.27 L552.5,199.18 L555,200.1 L557.5,201.03 L560,201.97 L562.5,202.93 L565,203.9 L567.5,204.87 L570,205.86 L572.5,206.87 L575,207.88 L577.5,208.9 L580,209.94 L582.5,210.99 L585,212.05 L587.5,213.12 L590,214.21 L592.5,215.3 L595,216.41 L597.5,217.53 L600,218.66 L602.5,219.81 L605,220.96 L607.5,222.13 L610,223.31 L612.5,224.51 L615,225.71 L617.5,226.93 L620,228.16 L622.5,229.4 L625,230.65 L627.5,231.92 L630,233.2 L632.5,234.49 L635,235.8 L637.5,237.11 L640,238.44 L642.5,239.78 L645,241.13 L647.5,242.5 L650,243.88 L652.5,245.27 L655,246.68 L657.5,248.09 L660,249.52 L662.5,250.96 L665,252.42 L667.5,253.89 L670,255.37 L672.5,256.86 L675,258.37 L677.5,259.89 L680,261.42 L682.5,262.97 L685,264.52 L687.5,266.1 L690,267.68 L692.4,269.21" fill="none" stroke="#1a82a0" stroke-width="1.9"/>
<path d="M345.5,200.08 L348,200.1 L350.5,200.14 L353,200.19 L355.5,200.25 L358,200.33 L360.5,200.41 L363,200.51 L365.5,200.62 L368,200.74 L370.5,200.88 L373,201.03 L375.5,201.19 L378,201.36 L380.5,201.54 L383,201.74 L385.5,201.95 L388,202.17 L390.5,202.4 L393,202.65 L395.5,202.91 L398,203.18 L400.5,203.47 L403,203.76 L405.5,204.07 L408,204.4 L410.5,204.73 L413,205.08 L415.5,205.44 L418,205.82 L420.5,206.2 L423,206.6 L425.5,207.01 L426,207.1" fill="none" stroke="#4ea2bd" stroke-width="1.1"/>
<path d="M425,206.93 L427.5,207.35 L430,207.79 L432.5,208.24 L435,208.7 L437.5,209.17 L440,209.66 L442.5,210.16 L445,210.68 L447.5,211.2 L450,211.74 L452.5,212.3 L455,212.86 L457.5,213.44 L460,214.04 L462.5,214.64 L465,215.26 L467.5,215.89 L470,216.54 L472.5,217.2 L475,217.87 L477.5,218.56 L480,219.26 L482.5,219.98 L485,220.7 L487.5,221.44 L490,222.2 L492.5,222.97 L495,223.75 L497.5,224.54 L500,225.35 L502.5,226.18 L505,227.01 L507.5,227.86 L510,228.73 L512.5,229.61 L515,230.5 L517.5,231.41 L520,232.33 L522.5,233.26 L525,234.21 L527.5,235.17 L530,236.15 L532.5,237.14 L535,238.14 L537.5,239.16 L540,240.19 L542.5,241.24 L545,242.3 L547.5,243.38 L550,244.47 L552.5,245.57 L555,246.69 L557.5,247.82 L560,248.97 L562.5,250.13 L565,251.3 L567.5,252.5 L570,253.7 L572.5,254.92 L575,256.15 L577.5,257.4 L580,258.67 L582.5,259.94 L585,261.24 L587.5,262.54 L590,263.86 L592.5,265.2 L595,266.55 L597.5,267.92 L600,269.3 L602.5,270.7 L605,272.11 L607.5,273.53 L610,274.97 L612.5,276.43 L615,277.9 L617.5,279.38 L620,280.89 L622.5,282.4 L625,283.93 L627.5,285.48 L630,287.04 L632.5,288.62 L635,290.21 L637.5,291.81 L640,293.44 L642.5,295.07 L645,296.73 L647.5,298.4 L649.6,299.81" fill="none" stroke="#1a82a0" stroke-width="1.9"/>
<path d="M455.9,171.9 L450,180.7 M447.9,185 L443.1,194.9 M441.7,199.3 Q440,203.6 439.1,208.7 M475.6,176.7 L469.9,184.7 M467.9,189 L462.4,198.5 M461,202.9 Q459.3,208 458.4,213.1 M503.9,184.2 L497.7,191.6 M496,194.2 Q492.1,199.5 489,205.2 M487.2,210.4 Q485.1,215.15 484.2,220.5 M525.6,190.3 L519.2,198.6 M516.5,203 L510,212.6 M508.7,217.4 Q507.2,222.8 506.9,228.2 M543.4,196.1 L538.1,201.4 M532.4,210.6 Q530.15,217.45 530.9,224.1 M532.4,229.4 Q534.9,234.45 539,237.7 M580,249.7 L594,248.2 M600.3,247.5 L612.6,245.3 M618,244.5 L630,242.2 M635.5,240.8 L640.6,239.4 M555.2,201.4 L550.4,206.6 M546.4,217.1 Q547.7,225.7 553.4,230.7 M559.5,235 Q565.5,238.55 572.7,239.9 M580,240.3 L594,239.4 M601.4,238.4 L614.8,236.6 M621.2,234.8 L627.6,232 M656.2,247.3 L643.3,252.3 M636.4,254.8 L623,257.6 M615.2,259 L602,260.2 M594,260.4 L586.6,260.6 M671.9,256.9 L659.9,261.5 M653.5,263.4 L641.5,265.7 M634.6,267.5 L621.7,268.9 M614.3,269.6 L603.5,270.4 M692.4,269.4 L687.4,270.6 M680.8,272.7 L668.6,276 M662,277.7 L650.4,279.6 M643.2,281 L632.1,282.1 M627.6,282.3 L623.4,282.4" fill="none" stroke="#3791ae" stroke-width="1.3" stroke-linecap="butt"/>
<circle cx="592.5" cy="215.3" r="2.7" fill="#000"/>
<circle cx="547.2" cy="243.8" r="2.7" fill="#000"/>
<text x="459.8" y="169.8" font-size="6.6" text-anchor="middle" font-weight="bold" fill="#1a1a1a" >50</text>
<text x="480.2" y="174.5" font-size="6.6" text-anchor="middle" font-weight="bold" fill="#1a1a1a" >55</text>
<text x="508.3" y="182" font-size="6.6" text-anchor="middle" font-weight="bold" fill="#1a1a1a" >60</text>
<text x="530.3" y="188.8" font-size="6.6" text-anchor="middle" font-weight="bold" fill="#1a1a1a" >63</text>
<text x="549.3" y="194" font-size="6.6" text-anchor="middle" font-weight="bold" fill="#1a1a1a" >65</text>
<text x="561.6" y="198.3" font-size="6.6" text-anchor="middle" font-weight="bold" fill="#1a1a1a" >66</text>
<text x="596.8" y="211.9" font-size="6.6" text-anchor="middle" font-weight="bold" fill="#1a1a1a" >67</text>
<text x="632.7" y="230.8" font-size="6.6" text-anchor="middle" font-weight="bold" fill="#1a1a1a" >66</text>
<text x="647" y="237.2" font-size="6.6" text-anchor="middle" font-weight="bold" fill="#1a1a1a" >65</text>
<text x="661.3" y="245.5" font-size="6.6" text-anchor="middle" font-weight="bold" fill="#1a1a1a" >63</text>
<text x="677.4" y="255.6" font-size="6.6" text-anchor="middle" font-weight="bold" fill="#1a1a1a" >60</text>
<text x="698.5" y="269" font-size="6.6" text-anchor="middle" font-weight="bold" fill="#1a1a1a" >55</text>
<text x="553.6" y="241.9" font-size="6.6" text-anchor="middle" font-weight="bold" fill="#1a1a1a" >65</text>
<text x="699.9" y="276.2" font-size="6.4" text-anchor="middle" font-weight="bold" fill="#1a1a1a" letter-spacing="0.4">32-125/11</text>
<text x="656" y="305.9" font-size="6.4" text-anchor="middle" font-weight="bold" fill="#1a1a1a" letter-spacing="0.4">32-125/07</text>
<path d="M598.9,204.6 L598.9,201 Q599,200.1 600.4,200.1 L602.4,200.1 Q604.3,200.1 604.3,202.2 L604.3,206.9 Q604.5,207.7 605.6,207.7" fill="none" stroke="#111" stroke-width="1.15"/>
<text x="609.6" y="208.2" font-size="6" text-anchor="start" font-weight="bold" fill="#111" >P</text>
<circle cx="620.4" cy="204.3" r="1.45" fill="none" stroke="#111" stroke-width="1.05"/>
<circle cx="625.3" cy="207.9" r="1.5" fill="none" stroke="#111" stroke-width="1.05"/>
<line x1="625.2" y1="202.2" x2="620.3" y2="209.9" stroke="#111" stroke-width="1.1"/>
<path d="M345.5,424.62 L348,424.51 L350.5,424.4 L353,424.3 L355.5,424.21 L358,424.12 L360.5,424.03 L363,423.95 L365.5,423.88 L368,423.81 L370.5,423.75 L373,423.69 L375.5,423.64 L378,423.59 L380.5,423.54 L383,423.5 L385.5,423.46 L388,423.43 L390.5,423.39 L393,423.37 L395.5,423.34 L398,423.32 L400.5,423.3 L403,423.29 L405.5,423.28 L408,423.27 L410.5,423.26 L413,423.25 L415.5,423.25 L418,423.24 L420.5,423.24 L423,423.24 L425.5,423.25 L428,423.25 L430.5,423.25 L433,423.26 L435.5,423.26 L438,423.27 L440.5,423.27 L443,423.28 L445.5,423.28 L448,423.29 L450.5,423.29 L453,423.3 L455.5,423.3 L458,423.3 L460.5,423.3 L463,423.3 L465.5,423.3 L468,423.3 L470.5,423.29 L473,423.29 L475.5,423.28" fill="none" stroke="#4ea2bd" stroke-width="1.1"/>
<path d="M474.4,423.28 L476.9,423.27 L479.4,423.26 L481.9,423.24 L484.4,423.22 L486.9,423.2 L489.4,423.18 L491.9,423.15 L494.4,423.12 L496.9,423.09 L499.4,423.05 L501.9,423.01 L504.4,422.97 L506.9,422.92 L509.4,422.86 L511.9,422.8 L514.4,422.74 L516.9,422.67 L519.4,422.6 L521.9,422.52 L524.4,422.44 L526.9,422.35 L529.4,422.25 L531.9,422.15 L534.4,422.05 L536.9,421.93 L539.4,421.81 L541.9,421.69 L544.4,421.55 L546.9,421.42 L549.4,421.27 L551.9,421.12 L554.4,420.95 L556.9,420.79 L559.4,420.61 L561.9,420.43 L564.4,420.23 L566.9,420.03 L569.4,419.83 L571.9,419.61 L574.4,419.38 L576.9,419.15 L579.4,418.9 L581.9,418.65 L584.4,418.39 L586.9,418.12 L589.4,417.84 L591.9,417.55 L594.4,417.24 L596.9,416.93 L599.4,416.61 L601.9,416.28 L604.4,415.94 L606.9,415.58 L609.4,415.22 L611.9,414.84 L614.4,414.45 L616.9,414.06 L619.4,413.64 L621.9,413.22 L624.4,412.79 L626.9,412.34 L629.4,411.88 L631.9,411.41 L634.4,410.93 L636.9,410.43 L639.4,409.92 L641.9,409.4 L644.4,408.86 L646.9,408.31 L649.4,407.75 L651.9,407.17 L654.4,406.58 L656.9,405.97 L659.4,405.35 L661.9,404.72 L664.4,404.07 L666.9,403.41 L669.4,402.73 L671.9,402.03 L674.4,401.32 L676.9,400.6 L679.4,399.86 L681.9,399.1 L684.4,398.33 L686.9,397.54 L689.4,396.73 L691.8,395.95" fill="none" stroke="#1a82a0" stroke-width="1.9"/>
<text x="590.5" y="409.8" font-size="6.6" text-anchor="middle" font-weight="bold" fill="#1a1a1a" >NPSH</text>
<path d="M345.5,559.56 L348,558.54 L350.5,557.53 L353,556.53 L355.5,555.53 L358,554.54 L360.5,553.56 L363,552.57 L365.5,551.6 L368,550.63 L370.5,549.67 L373,548.71 L375.5,547.76 L378,546.81 L380.5,545.87 L383,544.94 L385.5,544.01 L388,543.09 L390.5,542.18 L393,541.27 L395.5,540.36 L398,539.47 L400.5,538.58 L403,537.69 L405.5,536.81 L408,535.94 L410.5,535.08 L413,534.22 L415.5,533.37 L418,532.52 L420.5,531.68 L423,530.85 L425.5,530.02 L427,529.53" fill="none" stroke="#4ea2bd" stroke-width="1.1"/>
<path d="M426,529.86 L428.5,529.04 L431,528.23 L433.5,527.43 L436,526.63 L438.5,525.84 L441,525.05 L443.5,524.28 L446,523.51 L448.5,522.75 L451,521.99 L453.5,521.24 L456,520.5 L458.5,519.77 L461,519.04 L463.5,518.32 L466,517.61 L468.5,516.9 L471,516.2 L473.5,515.51 L476,514.83 L478.5,514.15 L481,513.49 L483.5,512.83 L486,512.17 L488.5,511.53 L491,510.89 L493.5,510.26 L496,509.64 L498.5,509.03 L501,508.42 L503.5,507.82 L506,507.23 L508.5,506.65 L511,506.07 L513.5,505.51 L516,504.95 L518.5,504.4 L521,503.86 L523.5,503.32 L526,502.8 L528.5,502.28 L531,501.77 L533.5,501.27 L536,500.78 L538.5,500.29 L541,499.82 L543.5,499.35 L546,498.89 L548.5,498.44 L551,498 L553.5,497.57 L556,497.14 L558.5,496.73 L561,496.32 L563.5,495.93 L566,495.54 L568.5,495.16 L571,494.79 L573.5,494.43 L576,494.07 L578.5,493.73 L581,493.39 L583.5,493.07 L586,492.75 L588.5,492.45 L591,492.15 L593.5,491.86 L596,491.58 L598.5,491.31 L601,491.05 L603.5,490.8 L606,490.56 L608.5,490.33 L611,490.1 L613.5,489.89 L616,489.69 L618.5,489.5 L621,489.31 L623.5,489.14 L626,488.97 L628.5,488.82 L631,488.68 L633.5,488.54 L636,488.42 L638.5,488.3 L641,488.2 L643.5,488.1 L646,488.02 L648.5,487.95 L651,487.88 L653.5,487.83 L656,487.79 L658.5,487.75 L661,487.73 L663.5,487.72 L666,487.72 L668.5,487.73 L671,487.74 L673.5,487.77 L676,487.81 L678.5,487.87 L681,487.93 L683.5,488 L686,488.08 L688.5,488.18 L691,488.28 L693.4,488.39" fill="none" stroke="#1a82a0" stroke-width="1.9"/>
<path d="M345.5,586.5 L348,585.58 L350.5,584.66 L353,583.74 L355.5,582.81 L358,581.88 L360.5,580.95 L363,580.02 L365.5,579.09 L368,578.15 L370.5,577.22 L373,576.29 L375.5,575.36 L378,574.43 L380.5,573.51 L383,572.58 L385.5,571.67 L388,570.75 L390.5,569.84 L393,568.94 L395.5,568.04 L398,567.15 L400.5,566.26 L403,565.38 L405.5,564.51 L408,563.64 L410.5,562.78 L413,561.93 L415.5,561.09 L418,560.26 L420.5,559.44 L423,558.63 L425.5,557.83 L426,557.67" fill="none" stroke="#4ea2bd" stroke-width="1.1"/>
<path d="M425.2,557.92 L427.7,557.13 L430.2,556.35 L432.7,555.57 L435.2,554.81 L437.7,554.06 L440.2,553.33 L442.7,552.6 L445.2,551.89 L447.7,551.18 L450.2,550.5 L452.7,549.82 L455.2,549.15 L457.7,548.5 L460.2,547.87 L462.7,547.24 L465.2,546.63 L467.7,546.03 L470.2,545.45 L472.7,544.88 L475.2,544.32 L477.7,543.78 L480.2,543.25 L482.7,542.73 L485.2,542.23 L487.7,541.74 L490.2,541.27 L492.7,540.81 L495.2,540.36 L497.7,539.93 L500.2,539.52 L502.7,539.11 L505.2,538.72 L507.7,538.35 L510.2,537.98 L512.7,537.63 L515.2,537.3 L517.7,536.98 L520.2,536.67 L522.7,536.37 L525.2,536.09 L527.7,535.82 L530.2,535.56 L532.7,535.31 L535.2,535.08 L537.7,534.86 L540.2,534.65 L542.7,534.45 L545.2,534.26 L547.7,534.09 L550.2,533.92 L552.7,533.77 L555.2,533.62 L557.7,533.49 L560.2,533.36 L562.7,533.25 L565.2,533.14 L567.7,533.04 L570.2,532.95 L572.7,532.87 L575.2,532.79 L577.7,532.73 L580.2,532.67 L582.7,532.61 L585.2,532.56 L587.7,532.52 L590.2,532.48 L592.7,532.44 L595.2,532.41 L597.7,532.39 L600.2,532.36 L602.7,532.34 L605.2,532.32 L607.7,532.3 L610.2,532.29 L612.7,532.27 L615.2,532.25 L617.7,532.23 L620.2,532.21 L622.7,532.19 L625.2,532.17 L627.7,532.14 L630.2,532.11 L632.7,532.07 L635.2,532.03 L637.7,531.98 L640.2,531.93 L642.7,531.87 L645.2,531.8 L647.7,531.72 L649.1,531.67" fill="none" stroke="#1a82a0" stroke-width="1.9"/>
<text x="697" y="483.8" font-size="6.4" text-anchor="middle" font-weight="bold" fill="#1a1a1a" letter-spacing="0.3">32-125/11</text>
<text x="654.6" y="528.9" font-size="6.4" text-anchor="middle" font-weight="bold" fill="#1a1a1a" letter-spacing="0.35">32-125/07</text>
<line x1="288.2" y1="169.3" x2="381.7" y2="164.2" stroke="#2a2a2a" stroke-width="0.9" />
<line x1="612" y1="223.5" x2="829.8" y2="168.9" stroke="#2a2a2a" stroke-width="0.9" />
<line x1="666.4" y1="243.1" x2="829.8" y2="234.7" stroke="#2a2a2a" stroke-width="0.9" />
<line x1="549" y1="246" x2="830.3" y2="288.2" stroke="#2a2a2a" stroke-width="0.9" />
<line x1="670.5" y1="304" x2="830.3" y2="317.1" stroke="#2a2a2a" stroke-width="0.9" />
<line x1="682.5" y1="401.1" x2="829.2" y2="384.3" stroke="#2a2a2a" stroke-width="0.9" />
<line x1="677.6" y1="491.6" x2="829.2" y2="532.3" stroke="#2a2a2a" stroke-width="0.9" />
<text x="834.6" y="114.1" font-size="15" fill="#231f20" stroke="#231f20" stroke-width="0.3" text-anchor="start" textLength="202" lengthAdjust="spacingAndGlyphs">Участок графика показанный</text>
<text x="834.6" y="132.3" font-size="15" fill="#231f20" stroke="#231f20" stroke-width="0.3" text-anchor="start" textLength="201" lengthAdjust="spacingAndGlyphs">толстой линией указывает на</text>
<text x="834.6" y="150.2" font-size="15" fill="#231f20" stroke="#231f20" stroke-width="0.3" text-anchor="start" textLength="203" lengthAdjust="spacingAndGlyphs">рабочий диапазон в котором</text>
<text x="834.6" y="167.9" font-size="15" fill="#231f20" stroke="#231f20" stroke-width="0.3" text-anchor="start" textLength="174.1" lengthAdjust="spacingAndGlyphs">разрешается длительное</text>
<text x="834.6" y="185.9" font-size="15" fill="#231f20" stroke="#231f20" stroke-width="0.3" text-anchor="start" textLength="198" lengthAdjust="spacingAndGlyphs">использование, насос имеет</text>
<text x="834.6" y="203.8" font-size="15" fill="#231f20" stroke="#231f20" stroke-width="0.3" text-anchor="start" textLength="92.2" lengthAdjust="spacingAndGlyphs">высокий КПД</text>
<text x="833.7" y="233.9" font-size="15" fill="#231f20" stroke="#231f20" stroke-width="0.3" text-anchor="start" textLength="171.3" lengthAdjust="spacingAndGlyphs">Эффективность насоса в</text>
<text x="833.7" y="251.8" font-size="15" fill="#231f20" stroke="#231f20" stroke-width="0.3" text-anchor="start" textLength="133.3" lengthAdjust="spacingAndGlyphs">конкретных точках</text>
<text x="837.6" y="296.3" font-size="15" fill="#231f20" stroke="#231f20" stroke-width="0.3" text-anchor="start" textLength="161.6" lengthAdjust="spacingAndGlyphs">условия работы насоса</text>
<text x="833.7" y="322.8" font-size="15" fill="#231f20" stroke="#231f20" stroke-width="0.3" text-anchor="start" textLength="104.7" lengthAdjust="spacingAndGlyphs">Модель насоса</text>
<text x="834.2" y="387" font-size="15" fill="#231f20" stroke="#231f20" stroke-width="0.3" text-anchor="start" textLength="86.2" lengthAdjust="spacingAndGlyphs">NPSH график</text>
<text x="837" y="404.5" font-size="15" fill="#231f20" stroke="#231f20" stroke-width="0.3" text-anchor="start" textLength="242" lengthAdjust="spacingAndGlyphs">(допускаемый кавитационный запас)</text>
<text x="833.7" y="541.8" font-size="15" fill="#231f20" stroke="#231f20" stroke-width="0.3" text-anchor="start" textLength="161.3" lengthAdjust="spacingAndGlyphs">График потребляемой</text>
<text x="833.7" y="559.3" font-size="15" fill="#231f20" stroke="#231f20" stroke-width="0.3" text-anchor="start" textLength="68" lengthAdjust="spacingAndGlyphs">мощности</text>
<text x="282.3" y="175.2" font-size="15" fill="#231f20" stroke="#231f20" stroke-width="0.3" text-anchor="end" textLength="256.7" lengthAdjust="spacingAndGlyphs">Участок графика кривой показанный</text>
<text x="282.3" y="193.3" font-size="15" fill="#231f20" stroke="#231f20" stroke-width="0.3" text-anchor="end" textLength="196.7" lengthAdjust="spacingAndGlyphs">тонкой линией указывает на</text>
<text x="282.3" y="211.4" font-size="15" fill="#231f20" stroke="#231f20" stroke-width="0.3" text-anchor="end" textLength="239.5" lengthAdjust="spacingAndGlyphs">номинальный диапазон в котором</text>
<text x="282.3" y="229.3" font-size="15" fill="#231f20" stroke="#231f20" stroke-width="0.3" text-anchor="end" textLength="211.1" lengthAdjust="spacingAndGlyphs">длительное использование не</text>
<text x="282.3" y="246.8" font-size="15" fill="#231f20" stroke="#231f20" stroke-width="0.3" text-anchor="end" textLength="78.1" lengthAdjust="spacingAndGlyphs">разрешено</text>
</svg>
</body></html>
